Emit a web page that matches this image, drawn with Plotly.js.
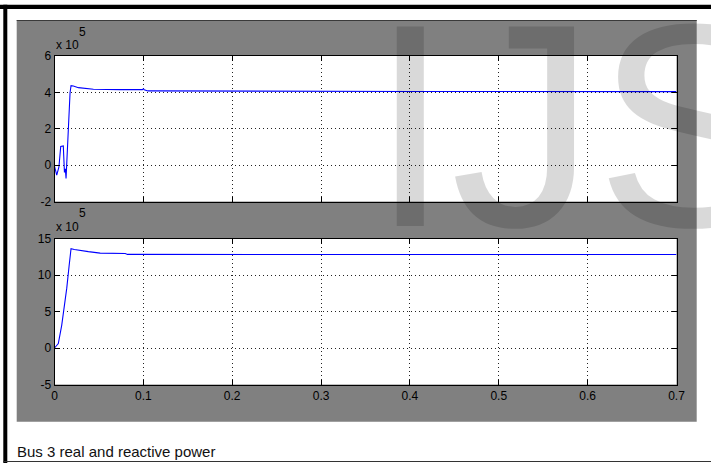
<!DOCTYPE html>
<html>
<head>
<meta charset="utf-8">
<script src="https://cdn.plot.ly/plotly-3.0.1.min.js"></script>
<style>
html,body{margin:0;padding:0;background:#fff;}
#chart{width:711px;height:463px;}
</style>
</head>
<body>
<div id="chart"></div>
<script>
// Time axis (s)
const xTicks = [0, 0.1, 0.2, 0.3, 0.4, 0.5, 0.6, 0.7];
const xTickLabels = ["0", "0.1", "0.2", "0.3", "0.4", "0.5", "0.6", "0.7"];

// Real power (x 10^5)
const tReal = [0, 0.0025, 0.005, 0.007, 0.0099, 0.0112, 0.0122, 0.013, 0.0138, 0.0149, 0.0164, 0.0175, 0.0186, 0.0212, 0.0269, 0.0363, 0.0438, 0.074, 0.099, 0.1, 0.101, 0.105, 0.2, 0.3, 0.4, 0.5, 0.6, 0.7];
const realPower = [-0.05, -0.55, -0.1, 1.02, 1.05, -0.4, -0.2, -0.74, 0.1, 1.48, 2.9, 3.98, 4.37, 4.35, 4.26, 4.22, 4.17, 4.15, 4.15, 4.2, 4.15, 4.08, 4.06, 4.05, 4.05, 4.05, 4.05, 4.04];
const realTicks = [-2, 0, 2, 4, 6];

// Reactive power (x 10^5)
const tReactive = [0, 0.0043, 0.0081, 0.0107, 0.0138, 0.0164, 0.0186, 0.0223, 0.0269, 0.0381, 0.0514, 0.0796, 0.0822, 0.2, 0.4, 0.6, 0.7];
const reactivePower = [0, 0.6, 3.1, 5.2, 8.2, 11.2, 13.6, 13.5, 13.4, 13.2, 13.0, 12.94, 12.82, 12.8, 12.8, 12.8, 12.8];
const reactiveTicks = [-5, 0, 5, 10, 15];

const caption = "Bus 3 real and reactive power";
const watermark = "IJS";

const W = 711, H = 463;
const px = v => v / W;
const py = v => 1 - v / H;

const tickFont = {family: "Liberation Sans Narrow, Arial Narrow, Liberation Sans, Arial, sans-serif", size: 12, color: "#000"};

function xAxis(showLabels, anchor) {
  return {
    domain: [px(54.5), px(676.5)], range: [0, 0.7], anchor: anchor,
    tickmode: "array", tickvals: xTicks, ticktext: xTickLabels, showticklabels: showLabels,
    ticks: "inside", ticklen: 5, tickcolor: "#000", tickwidth: 1,
    showline: true, linecolor: "#000", linewidth: 1, mirror: "ticks",
    showgrid: true, gridcolor: "#222", gridwidth: 1, griddash: "1px,3px",
    zeroline: false, tickfont: tickFont, fixedrange: true
  };
}
function yAxis(dom, range, ticks, anchor) {
  return {
    domain: dom, range: range, anchor: anchor,
    tickmode: "array", tickvals: ticks, ticktext: ticks.map(String),
    ticks: "inside", ticklen: 5, tickcolor: "#000", tickwidth: 1,
    showline: true, linecolor: "#000", linewidth: 1, mirror: "ticks",
    showgrid: true, gridcolor: "#222", gridwidth: 1, griddash: "1px,3px",
    zeroline: false, tickfont: tickFont, fixedrange: true
  };
}

const traces = [
  {x: tReal, y: realPower, xaxis: "x", yaxis: "y", mode: "lines", line: {color: "#0000ff", width: 1.1}, hoverinfo: "skip"},
  {x: tReactive, y: reactivePower, xaxis: "x2", yaxis: "y2", mode: "lines", line: {color: "#0000ff", width: 1.1}, hoverinfo: "skip"}
];

const shapes = [
  // gray panel
  {type: "rect", xref: "paper", yref: "paper", x0: px(16.7), x1: px(696.7), y0: py(421.7), y1: py(20), fillcolor: "#808080", line: {width: 0}, layer: "below"},
  {type: "line", xref: "paper", yref: "paper", x0: px(16.7), x1: px(696.7), y0: py(20.5), y1: py(20.5), line: {color: "#3a3a3a", width: 1}, layer: "below"},
  // white plot areas
  {type: "rect", xref: "paper", yref: "paper", x0: px(54.5), x1: px(676.5), y0: py(201.5), y1: py(56), fillcolor: "#fff", line: {width: 0}, layer: "below"},
  {type: "rect", xref: "paper", yref: "paper", x0: px(54.5), x1: px(676.5), y0: py(384.5), y1: py(238.5), fillcolor: "#fff", line: {width: 0}, layer: "below"},
  // black frame
  {type: "rect", xref: "paper", yref: "paper", x0: 0, x1: 1, y0: py(9), y1: py(4.7), fillcolor: "#000", line: {width: 0}, layer: "above"},
  {type: "rect", xref: "paper", yref: "paper", x0: px(3.3), x1: px(7.3), y0: 0, y1: py(4.7), fillcolor: "#000", line: {width: 0}, layer: "above"},
  {type: "line", xref: "paper", yref: "paper", x0: px(3.3), x1: 1, y0: py(461.5), y1: py(461.5), line: {color: "#333", width: 1.2}, layer: "above"}
];

const annFont = {family: "Liberation Sans Narrow, Arial Narrow, Liberation Sans, Arial, sans-serif", size: 12, color: "#000"};
const annotations = [
  {xref: "paper", yref: "paper", x: px(54), y: py(45), xanchor: "left", yanchor: "middle", text: "x 10", showarrow: false, font: annFont},
  {xref: "paper", yref: "paper", x: px(77), y: py(31.5), xanchor: "left", yanchor: "middle", text: "5", showarrow: false, font: annFont},
  {xref: "paper", yref: "paper", x: px(54), y: py(227), xanchor: "left", yanchor: "middle", text: "x 10", showarrow: false, font: annFont},
  {xref: "paper", yref: "paper", x: px(77), y: py(213.3), xanchor: "left", yanchor: "middle", text: "5", showarrow: false, font: annFont},
  {xref: "paper", yref: "paper", x: px(15), y: py(451.5), xanchor: "left", yanchor: "middle", text: caption, showarrow: false,
   font: {family: "Liberation Sans, Arial, sans-serif", size: 15, color: "#111"}},
  {xref: "paper", yref: "paper", x: px(368), y: py(-38.5), xanchor: "left", yanchor: "top", text: watermark, showarrow: false,
   font: {family: "Liberation Sans, Arial, sans-serif", size: 290, color: "rgba(0,0,0,0.15)"}}
];

const layout = {
  width: W, height: H,
  margin: {l: 0, r: 0, t: 0, b: 0},
  paper_bgcolor: "#fff", plot_bgcolor: "#fff",
  showlegend: false,
  xaxis: xAxis(false, "y"),
  yaxis: yAxis([py(201.5), py(56)], [-2, 6], realTicks, "x"),
  xaxis2: xAxis(true, "y2"),
  yaxis2: yAxis([py(384.5), py(238.5)], [-5, 15], reactiveTicks, "x2"),
  shapes: shapes,
  annotations: annotations
};

Plotly.newPlot("chart", traces, layout, {staticPlot: true, displayModeBar: false});
</script>
</body>
</html>
